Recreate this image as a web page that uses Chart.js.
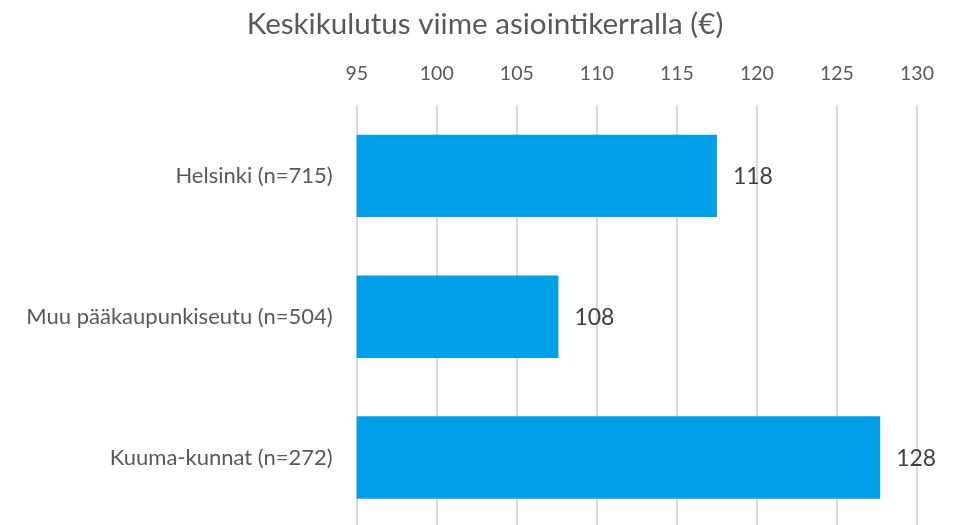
<!DOCTYPE html>
<html>
<head>
<meta charset="utf-8">
<script src="https://cdn.jsdelivr.net/npm/chart.js@4"></script>
<style>
  html, body { margin: 0; padding: 0; background: #fff; overflow: hidden; }
  #wrap { width: 959px; height: 528px; }
</style>
</head>
<body>
<div id="wrap"><canvas id="spendChart"></canvas></div>
<script>
const chartTitle = "Keskikulutus viime asiointikerralla (€)";
const regions = ["Helsinki (n=715)", "Muu pääkaupunkiseutu (n=504)", "Kuuma-kunnat (n=272)"];
const avgSpend = [117.5, 107.6, 127.7];
const axisMin = 95;
const axisMax = 130;
const axisStep = 5;

const font = "Lato";

// title + value labels drawn by hand (Excel style)
const excelBits = {
  id: "excelBits",
  afterDatasetsDraw(chart) {
    const ctx = chart.ctx;
    ctx.save();
    ctx.fillStyle = "#404040";
    ctx.font = "23px " + font;
    ctx.textAlign = "left";
    ctx.textBaseline = "middle";
    chart.getDatasetMeta(0).data.forEach((bar, i) => {
      ctx.fillText(String(Math.round(avgSpend[i])), bar.x + 16, bar.y + 1);
    });
    ctx.fillStyle = "#595959";
    ctx.font = "29.6px " + font;
    ctx.textAlign = "center";
    ctx.fillText(chartTitle, 485, 24);
    ctx.restore();
  },
};

new Chart(document.getElementById("spendChart"), {
  type: "bar",
  data: {
    labels: regions,
    datasets: [{
      data: avgSpend,
      backgroundColor: "#00a0e9",
      categoryPercentage: 1,
      barPercentage: 0.585,
    }],
  },
  options: {
    indexAxis: "y",
    responsive: true,
    maintainAspectRatio: false,
    animation: false,
    layout: { padding: { top: 0, right: 42, bottom: 0, left: 0 } },
    plugins: {
      legend: { display: false },
      tooltip: { enabled: false },
      title: { display: false },
    },
    scales: {
      x: {
        position: "top",
        min: axisMin,
        max: axisMax,
        ticks: {
          stepSize: axisStep,
          color: "#595959",
          font: { family: font, size: 19.5 },
          padding: 20,
        },
        grid: { color: "#d9d9d9", lineWidth: 2, drawTicks: false },
        border: { display: false },
        afterFit(s) { s.height = 105.4; },
      },
      y: {
        ticks: {
          color: "#595959",
          font: { family: font, size: 22 },
          padding: 24,
        },
        grid: { display: false, drawTicks: false },
        border: { display: false },
        afterFit(s) {
          s.width = 356.7;
          // tick padding would otherwise eat space below the plot
          s.paddingTop = 0;
          s.paddingBottom = 0;
        },
      },
    },
  },
  plugins: [excelBits],
});
</script>
</body>
</html>
